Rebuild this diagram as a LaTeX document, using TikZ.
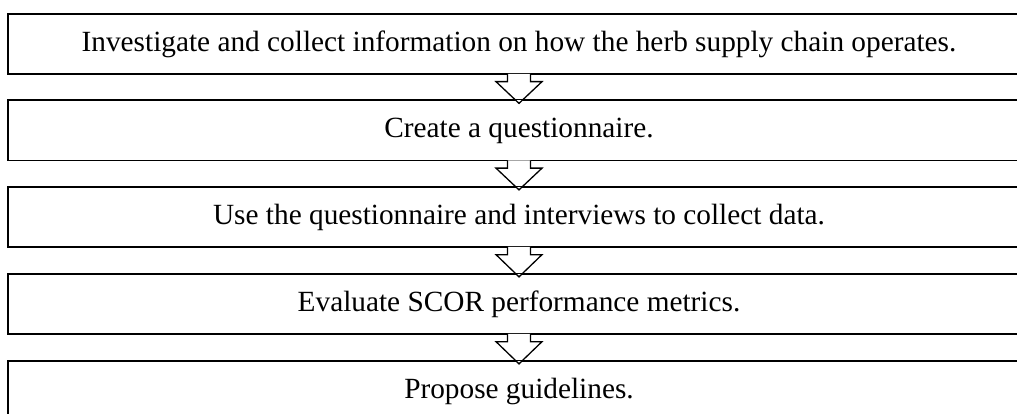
\documentclass[tikz,border=0pt]{standalone}
\usepackage{fontspec}
\setmainfont{Liberation Serif}
\usetikzlibrary{calc}

\begin{document}
\begin{tikzpicture}[x=1pt, y=1pt,
  stepbox/.style={draw, line width=1.3pt, minimum width=1022pt, minimum height=60pt,
                  inner sep=0pt, font=\fontsize{29.3}{35}\selectfont},
  downarrow/.style={draw, fill=white, line width=1.3pt, line join=miter},
  boxedge/.style={draw, line width=1.3pt},
]
  \clip (0,0) rectangle (1017,-414);
  \useasboundingbox (0,0) rectangle (1017,-414);
  \node[stepbox] (s1) at (519,-44) {Investigate and collect information on how the herb supply chain operates.};
  \node[stepbox] (s2) at (519,-130.5) {Create a questionnaire.};
  \node[stepbox] (s3) at (519,-217) {Use the questionnaire and interviews to collect data.};
  \node[stepbox] (s4) at (519,-304) {Evaluate SCOR performance metrics.};
  \node[stepbox] (s5) at (519,-391) {Propose guidelines.};
  \foreach \a/\b in {s1/s2, s2/s3, s3/s4, s4/s5} {
    \draw[downarrow] ($(\a.south)+(-11.5,0.8)$) -- ++(0,-7.8) -- ++(-11.5,0)
      -- ($(\b.north)+(0,-3.5)$) -- ($(\a.south)+(23,-7)$) -- ++(-11.5,0) -- ++(0,7.8);
    \draw[boxedge] (\b.north west) -- (\b.north east);
  }
\end{tikzpicture}
\end{document}
